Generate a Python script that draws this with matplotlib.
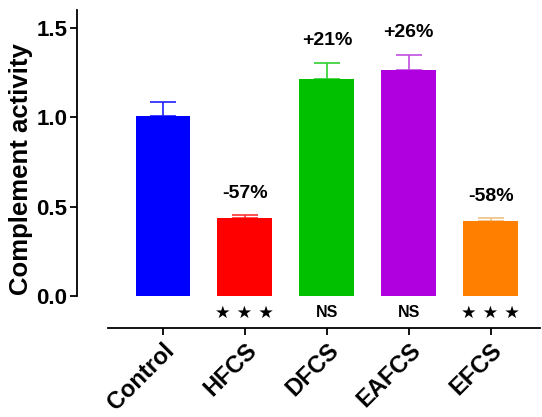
import numpy as np
import matplotlib
matplotlib.use('Agg')
import matplotlib.pyplot as plt

# ---------------------------------------------------------------------------
# Data
# ---------------------------------------------------------------------------
groups   = ['Control', 'HFCS', 'DFCS', 'EAFCS', 'EFCS']
means    = [1.005, 0.433, 1.213, 1.264, 0.421]
sem      = [0.079, 0.017, 0.090, 0.084, 0.012]
changes  = ['', '-57%', '+21%', '+26%', '-58%']
signif   = ['', '\u2605 \u2605 \u2605', 'NS', 'NS', '\u2605 \u2605 \u2605']
colors   = ['#0000ff', '#ff0000', '#00c000', '#b000e0', '#ff8000']
ecolors  = ['#2020ff', '#ff3030', '#30d030', '#c050e0', '#f0c080']
yticks   = [0.0, 0.5, 1.0, 1.5]

plt.rcParams.update({
    'font.family': ['Liberation Sans', 'DejaVu Sans'],
    'font.weight': 'bold',
})

fig = plt.figure(figsize=(5.42, 4.17), dpi=100)
ax = fig.add_axes([0.142, 0.2134, 0.854, 0.7626])

x = np.arange(len(groups))
ax.bar(x, means, width=0.67, color=colors, zorder=2)
for xi, m, e, c in zip(x, means, sem, ecolors):
    ax.errorbar(xi, m, yerr=[[0], [e]], color=c, capsize=9.5,
                elinewidth=1.2, capthick=1.2, zorder=1)

# percent change labels above bars
for xi, m, e, lab in zip(x, means, sem, changes):
    if lab:
        ax.text(xi, m + e + 0.125, lab, ha='center', va='center',
                fontsize=14, fontweight='bold')

# significance marks under bars
for xi, s in zip(x, signif):
    if s:
        ax.text(xi, -0.095, s, ha='center', va='center',
                fontsize=11.5 if s == 'NS' else 12.5, fontweight='bold',
                family=['DejaVu Sans'] if s != 'NS' else ['Liberation Sans'])

ax.set_xlim(-1.05, 4.6)
ax.set_ylim(-0.18, 1.6)
ax.set_yticks(yticks)
ax.set_yticklabels([f'{v:.1f}' for v in yticks])
ax.set_xticks(x)
ax.set_xticklabels(groups, rotation=45, ha='right', rotation_mode='anchor')

ax.spines['top'].set_visible(False)
ax.spines['right'].set_visible(False)
ax.spines['left'].set_bounds(0, 1.6)
ax.spines['bottom'].set_bounds(-0.67, 4.6)
for sp in ('left', 'bottom'):
    ax.spines[sp].set_linewidth(1.3)

ax.tick_params(axis='both', labelsize=16, width=1.3, length=5)
ax.tick_params(axis='x', labelsize=17, pad=3)
ax.tick_params(axis='y', pad=2)
for lab in ax.get_xticklabels() + ax.get_yticklabels():
    lab.set_fontweight('bold')

ax.set_ylabel('Complement activity', fontsize=18.5, fontweight='bold', labelpad=2)

fig.savefig('out.png', dpi=100)
